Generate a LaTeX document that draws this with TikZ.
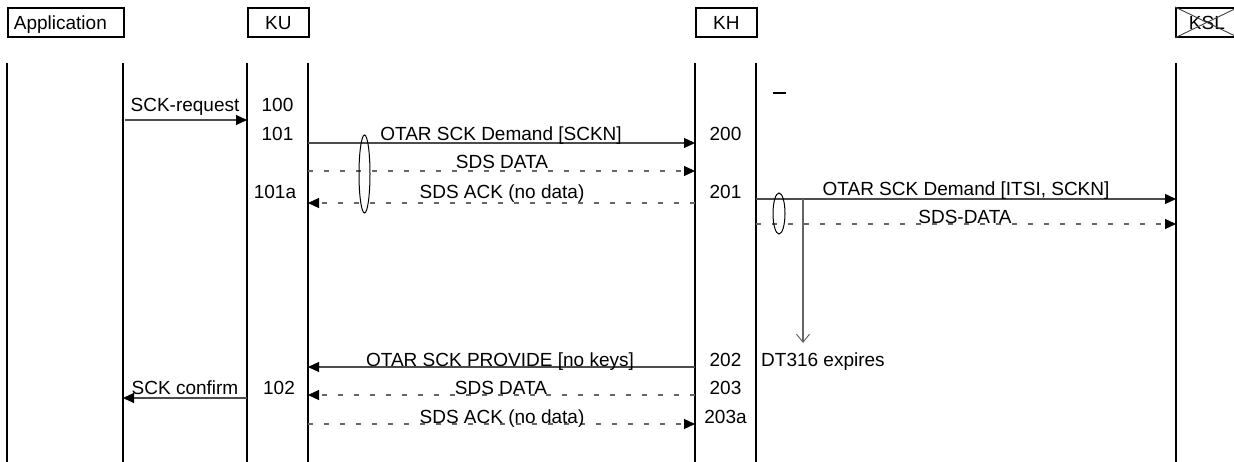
\documentclass[tikz,border=0pt]{standalone}
\usepackage{fontspec}
\setmainfont{Liberation Sans}
\usetikzlibrary{arrows.meta}
\begin{document}
\begin{tikzpicture}[x=1pt,y=-1pt,
  lifeline/.style={line width=2.2pt},
  hdr/.style={draw, line width=1.8pt, anchor=north west, minimum height=29pt,
    inner xsep=6pt, inner ysep=0pt, text height=13.5pt, text depth=0pt,
    font=\fontsize{19}{21}\selectfont},
  lbl/.style={inner sep=0pt, anchor=base, font=\fontsize{19}{21}\selectfont},
  lbll/.style={lbl, anchor=base west},
  msg/.style={draw=black!70, line width=1.1pt, -{Triangle[length=11pt,width=10pt,color=black]}},
  dmsg/.style={msg, draw=black!60, dash pattern=on 5pt off 11pt},
  oval/.style={draw, line width=1pt},
  timer/.style={draw=black!60, line width=1.3pt, -{Straight Barb[length=8pt,width=13pt,line width=1pt]}}
]
\useasboundingbox (0,0) rectangle (1234,462);

% header boxes
\node[hdr, minimum width=116pt, text width=104pt, align=left] (app) at (7,7) {Application};
\node[hdr, minimum width=61pt] (ku) at (247,7) {KU};
\node[hdr, minimum width=61pt] (kh) at (695,7) {KH};
\node[hdr, minimum width=62pt] (ksl) at (1175,7) {KSL};
\draw[black!75, line width=0.9pt] (ksl.north west) -- (ksl.south east);
\draw[black!75, line width=0.9pt] (ksl.south west) -- (ksl.north east);

% lifelines
\foreach \n/\x in {a1/7, a2/123, u1/247, u2/308, h1/695, h2/756, s1/1176} {
  \coordinate (\n-top) at (\x,63);
  \coordinate (\n-bot) at (\x,462);
  \draw[lifeline] (\n-top) -- (\n-bot);
}

% small mark
\coordinate (mk1) at (773,93);
\coordinate (mk2) at (786,93);
\draw[line width=2pt] (mk1) -- (mk2);

% message end points
\coordinate (m1a) at (125,120);  \coordinate (m1b) at (247,120);
\coordinate (m2a) at (308,143);  \coordinate (m2b) at (695,143);
\coordinate (m3a) at (308,171);  \coordinate (m3b) at (695,171);
\coordinate (m4a) at (695,203);  \coordinate (m4b) at (308,203);
\coordinate (m5a) at (756,199);  \coordinate (m5b) at (1176,199);
\coordinate (m6a) at (756,224);  \coordinate (m6b) at (1176,224);
\coordinate (m7a) at (695,367);  \coordinate (m7b) at (308,367);
\coordinate (m8a) at (695,395);  \coordinate (m8b) at (308,395);
\coordinate (m9a) at (247,398);  \coordinate (m9b) at (123,398);
\coordinate (m10a) at (308,424); \coordinate (m10b) at (695,424);
\coordinate (t0) at (803,199);   \coordinate (t1) at (803,343);

% messages
\draw[msg] (m1a) -- (m1b);
\draw[msg] (m2a) -- (m2b);
\draw[dmsg] (m3a) -- (m3b);
\draw[dmsg] (m4a) -- (m4b);
\draw[msg] (m5a) -- (m5b);
\draw[dmsg] (m6a) -- (m6b);
\draw[msg] (m7a) -- (m7b);
\draw[dmsg] (m8a) -- (m8b);
\draw[msg] (m9a) -- (m9b);
\draw[dmsg] (m10a) -- (m10b);
\draw[timer] (t0) -- (t1);

% ovals
\draw[oval] (364.5,174) ellipse [x radius=5.5, y radius=39];
\draw[oval] (779,213.5) ellipse [x radius=6, y radius=20.5];

% message labels
\node[lbl] (l1) at (185,111.5) {SCK-request};
\node[lbl] (l2) at (501,140.5) {OTAR SCK Demand [SCKN]};
\node[lbl] (l3) at (502,168.5) {SDS DATA};
\node[lbl] (l4) at (502,198.5) {SDS ACK (no data)};
\node[lbl] (l5) at (966,196) {OTAR SCK Demand [ITSI, SCKN]};
\node[lbl] (l6) at (965,223.5) {SDS-DATA};
\node[lbl] (l7) at (500,366.5) {OTAR SCK PROVIDE [no keys]};
\node[lbl] (l8) at (501,394.5) {SDS DATA};
\node[lbl] (l9) at (185,394.5) {SCK confirm};
\node[lbl] (l10) at (502,423.5) {SDS ACK (no data)};
\node[lbll] (l11) at (761,366.5) {DT316 expires};

% step numbers
\node[lbl] (n100) at (277.5,111.5) {100};
\node[lbl] (n101) at (277.5,140.5) {101};
\node[lbl] (n101a) at (275,198.5) {101a};
\node[lbl] (n102) at (279,394.5) {102};
\node[lbl] (n200) at (725.5,140.5) {200};
\node[lbl] (n201) at (725.5,198.5) {201};
\node[lbl] (n202) at (725.5,366.5) {202};
\node[lbl] (n203) at (725.5,394.5) {203};
\node[lbl] (n203a) at (725.5,423.5) {203a};
\end{tikzpicture}
\end{document}
